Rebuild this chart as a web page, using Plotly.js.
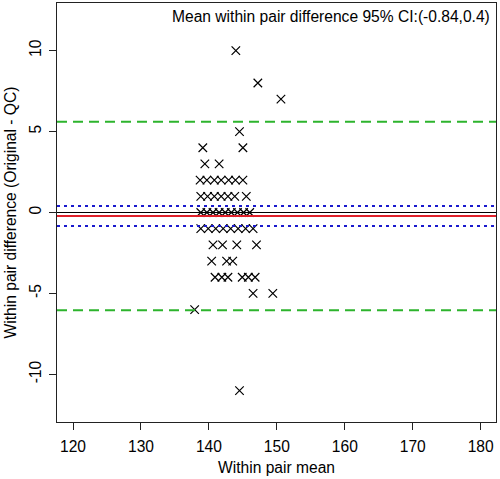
<!DOCTYPE html>
<html>
<head>
<meta charset="utf-8">
<script src="https://cdn.plot.ly/plotly-3.0.1.min.js"></script>
<style>html,body{margin:0;padding:0;background:#fff;}#chart{width:500px;height:479px;}</style>
</head>
<body>
<div id="chart"></div>
<script>
// Within pair means (x) and within pair differences (y)
const pairMean = [
  143.96, 147.2, 150.6, 144.5,
  139.1, 145.0,
  139.4, 141.5,
  138.7, 139.7, 140.8, 141.8, 142.9, 143.9, 145.0,
  138.8, 139.8, 140.8, 141.8, 142.8, 143.8, 145.5,
  138.8, 139.7, 140.6, 141.5, 142.4, 143.3, 144.2, 145.1, 146.0,
  138.8, 139.9, 141.0, 142.1, 143.2, 144.3, 145.4, 146.5,
  140.6, 142.0, 144.1, 147.0,
  140.4, 142.6, 143.5,
  140.9, 141.9, 142.8, 144.9, 145.8, 146.8,
  146.5, 149.4,
  137.9,
  144.5
];
const pairDiff = [
  10, 8, 7, 5,
  4, 4,
  3, 3,
  2, 2, 2, 2, 2, 2, 2,
  1, 1, 1, 1, 1, 1, 1,
  0, 0, 0, 0, 0, 0, 0, 0, 0,
  -1, -1, -1, -1, -1, -1, -1, -1,
  -2, -2, -2, -2,
  -3, -3, -3,
  -4, -4, -4, -4, -4, -4,
  -5, -5,
  -6,
  -11
];
const meanDiff = -0.22;
const ciLower = -0.84;
const ciUpper = 0.4;
const loaLower = -6.04;
const loaUpper = 5.6;
const zeroLine = 0;
const xTicks = [120, 130, 140, 150, 160, 170, 180];
const yTicks = [-10, -5, 0, 5, 10];
const noteText = "Mean within pair difference 95% CI:(-0.84,0.4)";

function hline(y, color, width, dash) {
  return {type: 'line', xref: 'paper', yref: 'y', x0: 0, x1: 1, y0: y, y1: y,
          line: {color: color, width: width, dash: dash}, layer: 'above'};
}

const font = {family: 'Liberation Sans, Arial, sans-serif', size: 15.6, color: '#000'};

const data = [{
  type: 'scatter', mode: 'markers', x: pairMean, y: pairDiff,
  marker: {symbol: 'x-thin-open', size: 8.5, color: '#000', line: {color: '#000', width: 1.2}},
  hoverinfo: 'none', cliponaxis: false
}];

const layout = {
  width: 500, height: 479,
  margin: {l: 57, r: 4, t: 3, b: 57},
  paper_bgcolor: '#fff', plot_bgcolor: '#fff',
  showlegend: false,
  font: font,
  xaxis: {
    range: [117.64, 182.25], tickvals: xTicks, ticktext: xTicks.map(String),
    showgrid: false, zeroline: false, showline: true, mirror: true,
    linecolor: '#222', linewidth: 1, ticks: 'outside', ticklen: 7, tickcolor: '#222',
    ticklabelstandoff: 3,
    tickfont: font, title: {text: 'Within pair mean', font: font, standoff: 8}
  },
  yaxis: {
    range: [-12.94, 12.94], tickvals: yTicks, ticktext: yTicks.map(String),
    showgrid: false, zeroline: false, showline: true, mirror: true,
    linecolor: '#222', linewidth: 1, ticks: 'outside', ticklen: 7, tickcolor: '#222',
    tickangle: -90, tickfont: font, ticklabelstandoff: 2,
    title: {text: 'Within pair difference (Original - QC)', font: font, standoff: 6}
  },
  shapes: [
    hline(loaUpper, '#2db42d', 2, '10px,6px'),
    hline(loaLower, '#2db42d', 2, '10px,6px'),
    hline(ciUpper, '#1a1acd', 2, '3px,4px'),
    hline(ciLower, '#1a1acd', 2, '3px,4px'),
    hline(zeroLine, '#000', 1, 'solid'),
    hline(meanDiff, '#e0202a', 2, 'solid')
  ],
  annotations: [{
    text: noteText, xref: 'paper', yref: 'paper', x: 0.99, y: 0.968,
    xanchor: 'right', yanchor: 'middle', showarrow: false, font: font
  }]
};

Plotly.newPlot('chart', data, layout, {staticPlot: true, displayModeBar: false});
</script>
</body>
</html>
